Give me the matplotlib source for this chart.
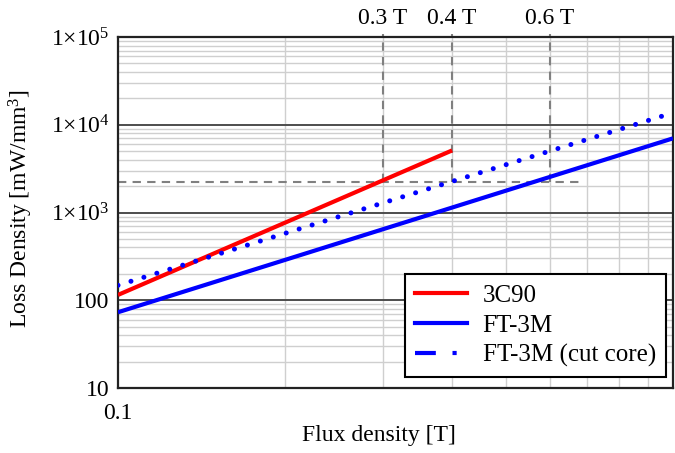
import matplotlib
matplotlib.use("Agg")
import matplotlib.pyplot as plt
from matplotlib.lines import Line2D
from matplotlib.ticker import FixedLocator, FixedFormatter, LogLocator, NullFormatter

plt.rcParams["font.family"] = ["Liberation Serif", "DejaVu Serif"]
plt.rcParams["mathtext.fontset"] = "custom"
plt.rcParams["mathtext.rm"] = "Liberation Serif"
plt.rcParams["mathtext.it"] = "Liberation Serif:italic"
plt.rcParams["font.size"] = 17

# loss curves (end points)
flux_3c90 = [0.1, 0.4]
loss_3c90 = [115, 5100]
flux_ft3m = [0.1, 1.0]
loss_ft3m = [73, 7000]
flux_cut = [0.1, 0.97]
loss_cut = [148, 12900]

# reference markers
marked_flux = [0.3, 0.4, 0.6]
marked_labels = ["0.3 T", "0.4 T", "0.6 T"]
ref_loss = 2250
ref_flux_end = 0.68

y_ticks = [10, 100, 1e3, 1e4, 1e5]
y_tick_labels = ["10", "100",
                 r"$\mathregular{1{\times}10^{3}}$",
                 r"$\mathregular{1{\times}10^{4}}$",
                 r"$\mathregular{1{\times}10^{5}}$"]
x_ticks = [0.1]
x_tick_labels = ["0.1"]

fig = plt.figure(figsize=(6.75, 4.53), dpi=100)
ax = fig.add_axes([0.1748, 0.1435, 0.8222, 0.7748])

ax.set_xscale("log")
ax.set_yscale("log")
ax.set_xlim(0.1, 1.0)
ax.set_ylim(10, 1e5)

# grid
ax.xaxis.set_major_locator(FixedLocator(x_ticks))
ax.xaxis.set_major_formatter(FixedFormatter(x_tick_labels))
ax.xaxis.set_minor_locator(LogLocator(base=10, subs=range(2, 10)))
ax.xaxis.set_minor_formatter(NullFormatter())
ax.yaxis.set_major_locator(FixedLocator(y_ticks))
ax.yaxis.set_major_formatter(FixedFormatter(y_tick_labels))
ax.yaxis.set_minor_locator(LogLocator(base=10, subs=range(2, 10), numticks=20))
ax.yaxis.set_minor_formatter(NullFormatter())
ax.grid(True, which="minor", color="#cfcfcf", lw=1.0)
ax.grid(True, which="major", axis="y", color="#4d4d4d", lw=1.4)
ax.set_axisbelow(True)
ax.tick_params(which="both", length=0)
ax.tick_params(axis="y", pad=6)
ax.tick_params(axis="x", pad=11)
for sp in ax.spines.values():
    sp.set_color("#222222")
    sp.set_linewidth(1.6)

# reference dashed lines
dash_kw = dict(color="#808080", lw=1.5, linestyle=(0, (4, 3)), zorder=2)
ax.plot([0.1, ref_flux_end], [ref_loss, ref_loss], **dash_kw)
for fx, lab in zip(marked_flux, marked_labels):
    ax.plot([fx, fx], [ref_loss, 1.08e5], clip_on=False, **dash_kw)
    ax.text(fx, 1.22e5, lab, ha="center", va="bottom")

# curves
ax.plot(flux_3c90, loss_3c90, color="#ff0000", lw=3, solid_capstyle="butt", zorder=3)
ax.plot(flux_ft3m, loss_ft3m, color="#0000ff", lw=3, solid_capstyle="butt", zorder=3)
ax.plot(flux_cut, loss_cut, color="#0000ff", lw=3.6, linestyle=(0, (0.01, 2.7)),
        dash_capstyle="round", zorder=3)

handles = [
    Line2D([], [], color="#ff0000", lw=3),
    Line2D([], [], color="#0000ff", lw=3),
    Line2D([], [], color="#0000ff", lw=3, linestyle=(0, (5, 4, 1, 4))),
]
leg = ax.legend(handles, ["3C90", "FT-3M", "FT-3M (cut core)"],
                loc="lower right", bbox_to_anchor=(0.987, 0.031), fontsize=18,
                fancybox=False, framealpha=1, edgecolor="black",
                handlelength=2.1, handletextpad=0.62, labelspacing=0.3,
                borderpad=0.4, borderaxespad=0)
leg.get_frame().set_linewidth(1.5)

ax.set_xlabel("Flux density [T]")
ax.xaxis.set_label_coords(0.47, -0.105)
ax.set_ylabel(r"Loss Density [mW/mm$^{\mathregular{3}}$]")
ax.yaxis.set_label_coords(-0.15, 0.51)

fig.savefig("out.png", dpi=100)
